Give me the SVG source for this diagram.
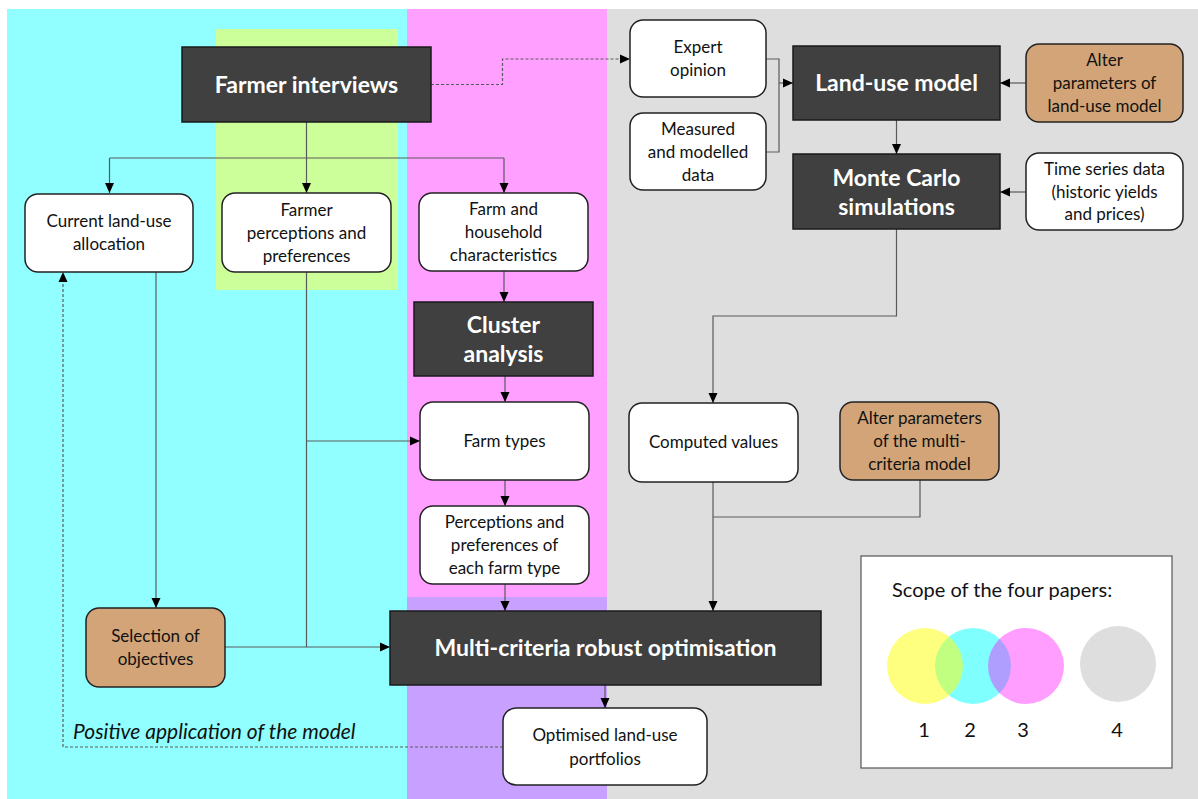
<svg xmlns="http://www.w3.org/2000/svg" width="1198" height="799" viewBox="0 0 1198 799">
  <style>
    .dark{fill:#404040;stroke:#1a1a1a;stroke-width:1.5}
    .box{fill:#ffffff;stroke:#222222;stroke-width:1.5}
    .tan{fill:#D2A477;stroke:#222222;stroke-width:1.5}
    .t{font-family:Lato,"Open Sans","Liberation Sans",sans-serif;font-size:17px;fill:#111111;text-anchor:middle}
    .tb{font-family:Lato,"Open Sans","Liberation Sans",sans-serif;font-weight:bold;font-size:23px;fill:#ffffff;text-anchor:middle}
    .lbl{font-family:Lato,"Open Sans","Liberation Sans",sans-serif;fill:#111111}
    .c{fill:none;stroke:#5a5a5a;stroke-width:1.2}
    .a{marker-end:url(#arrow)}
    .d{stroke-dasharray:3 2}
  </style>
  <defs>
    <marker id="arrow" markerUnits="userSpaceOnUse" markerWidth="10" markerHeight="10" refX="10" refY="5" orient="auto">
      <path d="M0,0.5 L10,5 L0,9.5 z" fill="#000000"/>
    </marker>
  </defs>

  <!-- background scope panels -->
  <g id="panels">
    <rect x="0" y="0" width="1198" height="799" fill="#ffffff"/>
    <rect x="7" y="9" width="400" height="790" fill="#91FFFF"/>
    <rect x="407" y="9" width="200" height="588" fill="#FF9FFF"/>
    <rect x="407" y="597" width="200" height="202" fill="#C8A0FF"/>
    <rect x="607" y="9" width="591" height="790" fill="#DEDEDE"/>
    <rect x="216" y="29" width="182" height="261" fill="#CCFF99"/>
  </g>

  <!-- connectors -->
  <g id="connectors">
    <path class="c" d="M306.5,122 V158 M109.5,158 H504"/>
    <path class="c a" d="M109.5,158 V193"/>
    <path class="c a" d="M306.5,158 V193"/>
    <path class="c a" d="M504,158 V193"/>
    <path class="c d a" d="M431,84.5 H502.5 V59 H630"/>
    <path class="c" d="M766,59 H779 V152 H766"/>
    <path class="c a" d="M779,83 H793"/>
    <path class="c a" d="M1026,83 H1000"/>
    <path class="c a" d="M896.5,120 V154"/>
    <path class="c a" d="M1026,192 H1000"/>
    <path class="c a" d="M896.5,229 V316 H713 V403"/>
    <path class="c a" d="M713,482 V611"/>
    <path class="c" d="M920,480 V517 H713"/>
    <path class="c a" d="M504,271 V302"/>
    <path class="c a" d="M505,376 V402"/>
    <path class="c a" d="M505,480 V506"/>
    <path class="c a" d="M505,584 V611"/>
    <path class="c a" d="M156,272 V608"/>
    <path class="c" d="M306.5,272 V647"/>
    <path class="c a" d="M306.5,441 H420"/>
    <path class="c a" d="M225,647 H390"/>
    <path class="c a" d="M605,685 V708"/>
    <path class="c d a" d="M503,747 H63 V272"/>
  </g>

  <!-- nodes -->
  <g id="farmer-interviews">
    <rect class="dark" x="182" y="47" width="249" height="75"/>
    <text class="tb" x="306.5" y="93">Farmer interviews</text>
  </g>
  <g id="current-land-use">
    <rect class="box" x="25" y="194" width="168" height="78" rx="13"/>
    <text class="t" x="109" y="227">Current land-use</text>
    <text class="t" x="109" y="250">allocation</text>
  </g>
  <g id="farmer-perceptions">
    <rect class="box" x="222" y="193" width="169" height="79" rx="13"/>
    <text class="t" x="306.5" y="216">Farmer</text>
    <text class="t" x="306.5" y="239">perceptions and</text>
    <text class="t" x="306.5" y="262">preferences</text>
  </g>
  <g id="farm-household">
    <rect class="box" x="419" y="193" width="169" height="78" rx="13"/>
    <text class="t" x="503.5" y="215">Farm and</text>
    <text class="t" x="503.5" y="238">household</text>
    <text class="t" x="503.5" y="261">characteristics</text>
  </g>
  <g id="cluster-analysis">
    <rect class="dark" x="414" y="302" width="179" height="74"/>
    <text class="tb" x="503.5" y="333">Cluster</text>
    <text class="tb" x="503.5" y="362">analysis</text>
  </g>
  <g id="farm-types">
    <rect class="box" x="420" y="402" width="169" height="78" rx="13"/>
    <text class="t" x="504.5" y="447">Farm types</text>
  </g>
  <g id="perceptions-farm-type">
    <rect class="box" x="420" y="506" width="169" height="78" rx="13"/>
    <text class="t" x="504.5" y="528">Perceptions and</text>
    <text class="t" x="504.5" y="551">preferences of</text>
    <text class="t" x="504.5" y="574">each farm type</text>
  </g>
  <g id="selection-objectives">
    <rect class="tan" x="86" y="608" width="139" height="79" rx="13"/>
    <text class="t" x="155.5" y="642">Selection of</text>
    <text class="t" x="155.5" y="665">objectives</text>
  </g>
  <g id="multi-criteria-optimisation">
    <rect class="dark" x="390" y="611" width="431" height="74"/>
    <text class="tb" x="605.5" y="656">Multi-criteria robust optimisation</text>
  </g>
  <g id="optimised-portfolios">
    <rect class="box" x="503" y="708" width="204" height="77" rx="13"/>
    <text class="t" x="605" y="741">Optimised land-use</text>
    <text class="t" x="605" y="765">portfolios</text>
  </g>
  <g id="expert-opinion">
    <rect class="box" x="630" y="20" width="136" height="77" rx="13"/>
    <text class="t" x="698" y="53">Expert</text>
    <text class="t" x="698" y="76">opinion</text>
  </g>
  <g id="measured-data">
    <rect class="box" x="630" y="113" width="136" height="77" rx="13"/>
    <text class="t" x="698" y="135">Measured</text>
    <text class="t" x="698" y="158">and modelled</text>
    <text class="t" x="698" y="181">data</text>
  </g>
  <g id="land-use-model">
    <rect class="dark" x="793" y="46" width="207" height="74"/>
    <text class="tb" x="896.5" y="91">Land-use model</text>
  </g>
  <g id="alter-land-use">
    <rect class="tan" x="1026" y="44" width="157" height="78" rx="13"/>
    <text class="t" x="1104.5" y="66">Alter</text>
    <text class="t" x="1104.5" y="89">parameters of</text>
    <text class="t" x="1104.5" y="112">land-use model</text>
  </g>
  <g id="monte-carlo">
    <rect class="dark" x="793" y="154" width="207" height="75"/>
    <text class="tb" x="896.5" y="186">Monte Carlo</text>
    <text class="tb" x="896.5" y="215">simulations</text>
  </g>
  <g id="time-series">
    <rect class="box" x="1026" y="153" width="157" height="77" rx="13"/>
    <text class="t" x="1104.5" y="175">Time series data</text>
    <text class="t" x="1104.5" y="198">(historic yields</text>
    <text class="t" x="1104.5" y="220">and prices)</text>
  </g>
  <g id="computed-values">
    <rect class="box" x="629" y="403" width="169" height="79" rx="13"/>
    <text class="t" x="713.5" y="448">Computed values</text>
  </g>
  <g id="alter-multi-criteria">
    <rect class="tan" x="840" y="402" width="159" height="78" rx="13"/>
    <text class="t" x="919.5" y="424">Alter parameters</text>
    <text class="t" x="919.5" y="447">of the multi-</text>
    <text class="t" x="919.5" y="470">criteria model</text>
  </g>

  <!-- positive application label -->
  <text class="lbl" x="73" y="739" font-style="italic" font-size="21px">Positive application of the model</text>

  <!-- legend -->
  <g id="legend">
    <rect x="861" y="556" width="311" height="212" fill="#ffffff" stroke="#555555" stroke-width="1.2"/>
    <text class="lbl" x="892" y="597" font-size="20px">Scope of the four papers:</text>
    <circle cx="973" cy="666" r="38" fill="#80FFFF"/>
    <circle cx="925" cy="666" r="38" fill="#FFFF00" fill-opacity="0.5"/>
    <circle cx="1026" cy="666" r="38" fill="#FF00FF" fill-opacity="0.38"/>
    <circle cx="1118" cy="664" r="38" fill="#DEDEDE"/>
    <g class="lbl" font-size="20px" text-anchor="middle">
      <text x="924" y="737">1</text>
      <text x="970" y="737">2</text>
      <text x="1023" y="737">3</text>
      <text x="1117" y="737">4</text>
    </g>
  </g>
</svg>
